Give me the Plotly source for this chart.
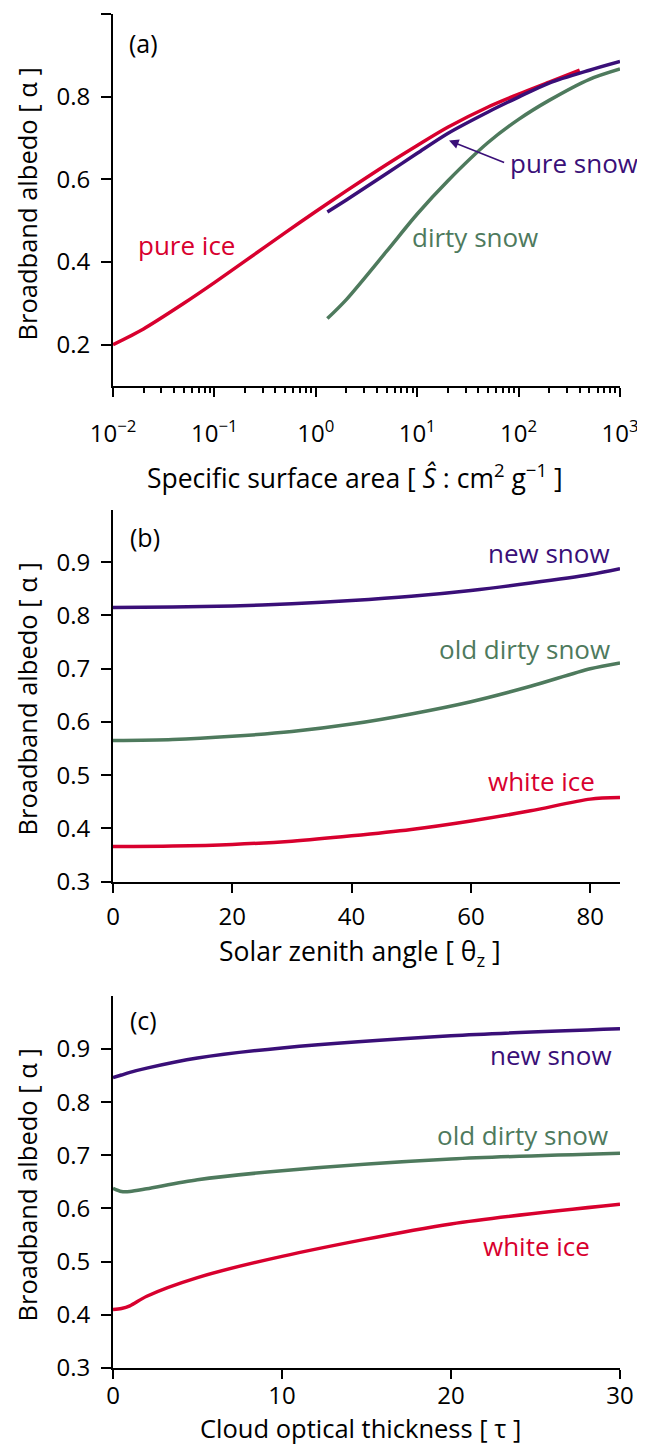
import numpy as np
import plotly.graph_objects as go

# ---------------- data ----------------
# Panel (a): albedo vs specific surface area (log x)
ssa_ice = [0.01, 0.02, 0.05, 0.1, 0.2, 0.5, 1, 2, 5, 10, 20, 50, 100, 200, 400]
alb_pure_ice = [0.200, 0.238, 0.300, 0.350, 0.402, 0.471, 0.522, 0.572, 0.636,
                0.682, 0.726, 0.775, 0.806, 0.835, 0.864]
ssa_snow = [1.3, 2, 5, 10, 20, 50, 100, 200, 500, 1000]
alb_pure_snow = [0.521, 0.550, 0.614, 0.663, 0.711, 0.763, 0.799, 0.833, 0.864, 0.885]
alb_dirty_snow = [0.263, 0.309, 0.426, 0.516, 0.596, 0.689, 0.745, 0.791, 0.842, 0.867]

# Panel (b): albedo vs solar zenith angle
sza = [0, 10, 20, 30, 40, 50, 60, 70, 80, 85]
b_new_snow = [0.815, 0.816, 0.818, 0.822, 0.828, 0.836, 0.847, 0.861, 0.877, 0.888]
b_old_dirty = [0.565, 0.567, 0.573, 0.582, 0.596, 0.615, 0.638, 0.667, 0.700, 0.711]
b_white_ice = [0.366, 0.367, 0.370, 0.376, 0.386, 0.398, 0.414, 0.433, 0.455, 0.458]

# Panel (c): albedo vs cloud optical thickness
tau = [0, 0.5, 1, 2, 5, 10, 20, 30]
c_new_snow = [0.846, 0.851, 0.856, 0.864, 0.883, 0.902, 0.925, 0.938]
c_old_dirty = [0.638, 0.632, 0.632, 0.637, 0.654, 0.671, 0.693, 0.704]
c_white_ice = [0.410, 0.412, 0.417, 0.435, 0.470, 0.510, 0.571, 0.608]

# tick labels
a_xtickvals = [0.01, 0.1, 1, 10, 100, 1000]
a_xticktext = ["10<sup>\u22122</sup>", "10<sup>\u22121</sup>", "10<sup>0</sup>",
               "10<sup>1</sup>", "10<sup>2</sup>", "10<sup>3</sup>"]
a_minorvals = [m * 10.0 ** e for e in range(-2, 3) for m in range(2, 10)]
a_ytickvals = [0.2, 0.4, 0.6, 0.8, 1.0]
a_yticktext = ["0.2", "0.4", "0.6", "0.8", "1"]
bc_ytickvals = [0.3, 0.4, 0.5, 0.6, 0.7, 0.8, 0.9]
b_xtickvals = [0, 20, 40, 60, 80]
c_xtickvals = [0, 10, 20, 30]

RED = "#D8002E"
PURPLE = "#3A0F78"
GREEN = "#4E7A5D"
FONT = "Open Sans, Noto Sans, sans-serif"
LW = 3.5

fig = go.Figure()

def line(x, y, color, xa, ya):
    fig.add_trace(go.Scatter(x=x, y=y, mode="lines", xaxis=xa, yaxis=ya,
                             line=dict(color=color, width=LW, shape="spline", smoothing=0.8),
                             showlegend=False, hoverinfo="skip"))

line(ssa_ice, alb_pure_ice, RED, "x", "y")
line(ssa_snow, alb_pure_snow, PURPLE, "x", "y")
line(ssa_snow, alb_dirty_snow, GREEN, "x", "y")

line(sza, b_new_snow, PURPLE, "x2", "y2")
line(sza, b_old_dirty, GREEN, "x2", "y2")
line(sza, b_white_ice, RED, "x2", "y2")

line(tau, c_new_snow, PURPLE, "x3", "y3")
line(tau, c_old_dirty, GREEN, "x3", "y3")
line(tau, c_white_ice, RED, "x3", "y3")

tickfont = dict(family=FONT, size=24, color="black")
common_x = dict(showline=True, linecolor="black", linewidth=2, ticks="outside",
                ticklen=9, tickwidth=2, tickcolor="black", showgrid=False,
                zeroline=False, tickfont=tickfont, ticklabelstandoff=4, mirror=False)
common_y = dict(showline=True, linecolor="black", linewidth=2, ticks="outside",
                ticklen=10, tickwidth=2, tickcolor="black", showgrid=False,
                zeroline=False, tickfont=tickfont, ticklabelstandoff=6, mirror=False)

# The page body keeps an 8 px margin, so the figure is sized to fit inside the
# window without overflow and its margins put the plot areas where the
# reference has them.
fig.update_layout(
    width=637, height=1438,
    margin=dict(l=105, r=20, t=6, b=78),
    paper_bgcolor="white", plot_bgcolor="white",
    font=dict(family=FONT, color="black"),
    xaxis=dict(common_x, type="log", range=[-2, 3], anchor="y",
               tickmode="array", tickvals=a_xtickvals, ticktext=a_xticktext,
               ticklabelstandoff=16,
               minor=dict(tickmode="array", tickvals=a_minorvals, ticks="outside",
                          ticklen=5, tickwidth=1.5, tickcolor="black")),
    yaxis=dict(common_y, range=[0.1, 1.0], domain=[0.7253, 1.0], anchor="x",
               tickmode="array", tickvals=a_ytickvals, ticktext=a_yticktext),
    xaxis2=dict(common_x, range=[0, 85], anchor="y2", tickmode="array", tickvals=b_xtickvals),
    yaxis2=dict(common_y, range=[0.3, 0.999], domain=[0.3592, 0.6340], anchor="x2",
                tickmode="array", tickvals=bc_ytickvals),
    xaxis3=dict(common_x, range=[0, 30], anchor="y3", tickmode="array", tickvals=c_xtickvals,
                ticklabelstandoff=-4),
    yaxis3=dict(common_y, range=[0.3, 0.999], domain=[0.0, 0.2745], anchor="x3",
                tickmode="array", tickvals=bc_ytickvals),
)

LFS = 26
ann = []

def label(text, x, y, color, xref, yref, xanchor="center", size=LFS):
    ann.append(dict(text=text, x=x, y=y, xref=xref, yref=yref, xanchor=xanchor,
                    yanchor="middle", showarrow=False,
                    font=dict(family=FONT, size=size, color=color)))

# panel letters
label("(a)", np.log10(0.0202), 0.931, "black", "x", "y", size=25)
label("(b)", 5.4, 0.948, "black", "x2", "y2", size=25)
label("(c)", 1.8, 0.955, "black", "x3", "y3", size=25)

# panel (a) curve labels
label("pure ice", np.log10(0.053), 0.441, RED, "x", "y")
label("dirty snow", np.log10(37.2), 0.461, GREEN, "x", "y")
label("pure snow", np.log10(78.0), 0.640, PURPLE, "x", "y", xanchor="left")
ann.append(dict(text="", x=np.log10(20.6), y=0.694, ax=np.log10(74.5), ay=0.639,
                xref="x", yref="y", axref="x", ayref="y", showarrow=True,
                arrowhead=2, arrowsize=1.2, arrowwidth=1.6, arrowcolor=PURPLE,
                standoff=0, startstandoff=0))

# panel (b) labels
label("new snow", 83.7, 0.918, PURPLE, "x2", "y2", xanchor="right")
label("old dirty snow", 83.7, 0.737, GREEN, "x2", "y2", xanchor="right")
label("white ice", 81.1, 0.489, RED, "x2", "y2", xanchor="right")

# panel (c) labels
label("new snow", 29.66, 0.888, PURPLE, "x3", "y3", xanchor="right")
label("old dirty snow", 29.43, 0.739, GREEN, "x3", "y3", xanchor="right")
label("white ice", 28.37, 0.530, RED, "x3", "y3", xanchor="right")

# axis titles (as annotations for exact placement)
for yc in [0.8597, 0.4941, 0.1352]:
    ann.append(dict(text="Broadband albedo [ \u03b1 ]", x=0, xshift=-86.5, y=yc,
                    xref="paper", yref="paper", textangle=-90, showarrow=False,
                    xanchor="center", yanchor="middle",
                    font=dict(family=FONT, size=25.5, color="black")))
XTFS = 26.5
ann.append(dict(text="Specific surface area [ <i>\u015c</i> : cm<sup>2</sup> g<sup>\u22121</sup> ]",
                x=0.4766, y=0.6581, xref="paper", yref="paper", showarrow=False,
                xanchor="center", yanchor="middle",
                font=dict(family=FONT, size=XTFS, color="black")))
ann.append(dict(text="Solar zenith angle [ \u03b8<sub>z</sub> ]",
                x=0.4873, y=0.3072, xref="paper", yref="paper", showarrow=False,
                xanchor="center", yanchor="middle",
                font=dict(family=FONT, size=XTFS, color="black")))
ann.append(dict(text="Cloud optical thickness [ \u03c4 ]",
                x=0.4873, y=-0.0576, xref="paper", yref="paper", showarrow=False,
                xanchor="center", yanchor="bottom", borderpad=0,
                font=dict(family=FONT, size=25.5, color="black")))

fig.update_layout(annotations=ann)
fig.write_html("out.html", config={"displayModeBar": False})
